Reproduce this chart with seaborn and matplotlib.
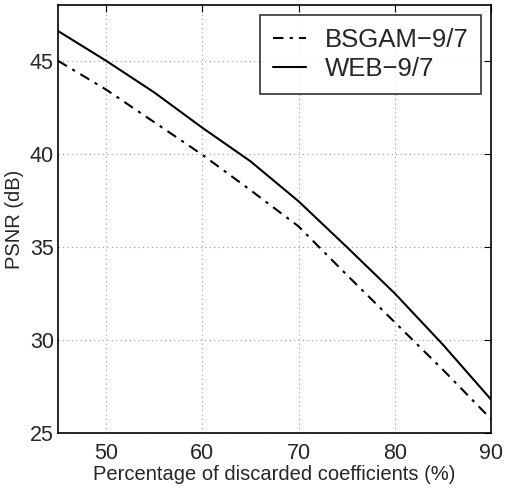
import matplotlib
matplotlib.use("Agg")
import matplotlib.pyplot as plt
import seaborn as sns
import pandas as pd

x_pct = [45, 50, 55, 60, 65, 70, 75, 80, 85, 90]
bsgam = [45.0, 43.45, 41.7, 39.95, 38.05, 36.1, 33.5, 30.95, 28.4, 25.75]
web = [46.6, 45.0, 43.3, 41.4, 39.6, 37.45, 35.0, 32.5, 29.75, 26.8]
series_names = ["BSGAM\u22129/7", "WEB\u22129/7"]

sns.set_style("white")
plt.rcParams['font.family'] = ['Liberation Sans', 'DejaVu Sans']

df = pd.DataFrame({
    "x": x_pct * 2,
    "y": bsgam + web,
    "method": [series_names[0]] * len(x_pct) + [series_names[1]] * len(x_pct),
})

fig = plt.figure(figsize=(5.06, 4.92), dpi=100)
ax = fig.add_axes([0.1146, 0.12, 0.8557, 0.87])

sns.lineplot(data=df[df.method == series_names[0]], x="x", y="y", ax=ax,
             color="black", lw=1.5, label=series_names[0])
sns.lineplot(data=df[df.method == series_names[1]], x="x", y="y", ax=ax,
             color="black", lw=1.5, label=series_names[1])
ax.lines[0].set_dashes([5, 3, 1.5, 3])

ax.set_xlim(45, 90)
ax.set_ylim(25, 48)
ax.set_xticks([50, 60, 70, 80, 90])
ax.set_yticks([25, 30, 35, 40, 45])
ax.grid(True, color="#999999", linestyle=(0, (1, 3)), linewidth=0.8)
ax.tick_params(axis="both", direction="in", top=True, right=True, labelsize=15.5,
               length=5, color="black", width=0.8)
ax.tick_params(axis="x", pad=7)
ax.tick_params(axis="y", pad=3)
for s in ax.spines.values():
    s.set_color("black")
    s.set_linewidth(1.2)

ax.set_xlabel("Percentage of discarded coefficients (%)", fontsize=14.5, labelpad=1)
ax.set_ylabel("PSNR (dB)", fontsize=14.5, labelpad=4)

leg = ax.legend(loc="upper right", bbox_to_anchor=(0.977, 0.977), borderaxespad=0,
                fontsize=18.5, handlelength=1.3, frameon=True, fancybox=False,
                borderpad=0.5, labelspacing=0.2, handletextpad=0.7)
leg.get_frame().set_edgecolor("black")
leg.get_frame().set_linewidth(1.2)

fig.savefig("out.png", dpi=100)
